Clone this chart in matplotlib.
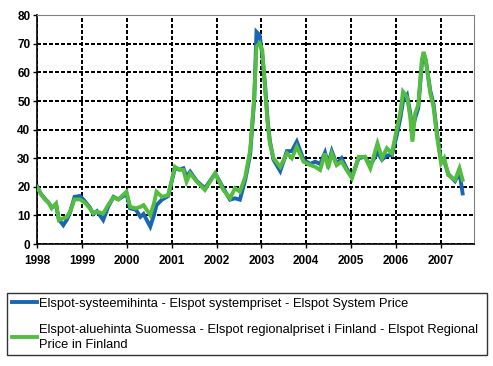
import matplotlib
matplotlib.use("Agg")
import matplotlib.pyplot as plt
from matplotlib.lines import Line2D

# decimal years
t = [1998.00, 1998.08, 1998.17, 1998.25, 1998.32, 1998.42, 1998.48, 1998.58, 1998.66, 1998.73,
     1998.83, 1998.95, 1999.06, 1999.17, 1999.25, 1999.33, 1999.47, 1999.58, 1999.70, 1999.81,
     1999.99, 2000.07, 2000.20, 2000.30, 2000.37, 2000.52, 2000.60, 2000.66, 2000.78, 2000.92,
     2001.07, 2001.17, 2001.26, 2001.33, 2001.41, 2001.56, 2001.74, 2001.97, 2002.15, 2002.30,
     2002.41, 2002.52, 2002.64, 2002.75, 2002.84, 2002.89, 2002.96, 2003.02, 2003.08, 2003.14,
     2003.19, 2003.27, 2003.42, 2003.57, 2003.68, 2003.79, 2003.94, 2004.09, 2004.20, 2004.31,
     2004.42, 2004.49, 2004.57, 2004.68, 2004.79, 2004.90, 2005.02, 2005.17, 2005.31, 2005.43,
     2005.59, 2005.69, 2005.80, 2005.91, 2006.02, 2006.10, 2006.16, 2006.25, 2006.32, 2006.37,
     2006.43, 2006.50, 2006.58, 2006.62, 2006.67, 2006.77, 2006.84, 2006.92, 2007.01, 2007.08,
     2007.17, 2007.32, 2007.42, 2007.49]

finland = [19.8, 17.5, 15.6, 14.5, 12.5, 14.2, 8.4, 9.0, 9.5, 11.3,
           15.6, 15.6, 14.5, 12.5, 10.7, 11.3, 10.7, 13.6, 16.3, 15.6,
           18.3, 13.0, 12.5, 13.0, 13.6, 10.1, 14.0, 18.3, 16.5, 17.1,
           27.0, 26.0, 25.9, 21.8, 24.7, 21.8, 18.9, 24.7, 18.9, 16.0,
           19.5, 18.3, 23.5, 32.9, 51.5, 69.0, 70.2, 67.8, 55.0, 42.2,
           35.2, 30.0, 27.0, 31.7, 30.0, 34.0, 28.8, 27.6, 27.0, 25.9,
           31.7, 26.5, 31.7, 27.6, 28.8, 25.9, 23.0, 30.5, 30.5, 26.5,
           35.2, 30.0, 33.5, 31.7, 40.0, 46.0, 53.3, 51.5, 44.5, 35.8,
           45.7, 48.6, 64.3, 67.2, 64.3, 52.7, 48.0, 37.5, 28.2, 30.0,
           24.1, 22.4, 26.5, 22.4]

system = [20.0, 17.5, 15.8, 14.5, 12.8, 13.5, 8.6, 6.6, 8.5, 11.0,
          16.5, 16.8, 15.0, 12.8, 10.5, 11.5, 8.4, 13.0, 16.5, 15.6,
          17.5, 12.5, 12.0, 9.5, 10.5, 6.1, 10.0, 13.6, 15.5, 16.8,
          26.5, 26.0, 26.5, 23.5, 25.3, 22.0, 19.5, 24.7, 19.5, 15.5,
          16.0, 15.5, 22.5, 31.5, 50.5, 74.2, 73.1, 66.0, 56.0, 43.0,
          36.0, 29.5, 25.5, 32.5, 32.5, 35.8, 29.5, 28.0, 28.8, 28.0,
          32.0, 28.0, 32.5, 28.0, 30.0, 26.5, 23.5, 30.0, 30.5, 27.5,
          32.0, 29.5, 31.0, 31.0, 38.0, 44.0, 50.0, 52.1, 46.0, 40.0,
          44.0, 47.5, 63.0, 66.5, 64.0, 53.5, 49.0, 38.5, 29.0, 29.0,
          24.5, 22.0, 25.0, 17.7]

years = [1998, 1999, 2000, 2001, 2002, 2003, 2004, 2005, 2006, 2007]
yticks = [0, 10, 20, 30, 40, 50, 60, 70, 80]
label_sys = "Elspot-systeemihinta - Elspot systempriset - Elspot System Price"
label_fin = ("Elspot-aluehinta Suomessa - Elspot regionalpriset i Finland - Elspot Regional\n"
             "Price in Finland")

blue = "#1a66b2"
green = "#52bd3e"

fig = plt.figure(figsize=(4.93, 3.66), dpi=100)
ax = fig.add_axes([0.0757, 0.3333, 0.8863, 0.6249])

ax.set_xlim(1998, 2007.75)
ax.set_ylim(0, 80)
ax.set_xticks(years)
ax.set_yticks(yticks)
ax.set_xticklabels([str(y) for y in years])
ax.set_yticklabels([str(v) for v in yticks])

for lab in ax.get_xticklabels() + ax.get_yticklabels():
    lab.set_fontfamily("Liberation Sans")
    lab.set_fontweight("bold")
    lab.set_fontsize(8.5)

ax.tick_params(axis="both", direction="out", length=3, width=1, color="black", pad=2)
ax.tick_params(axis="x", pad=5)

ax.grid(True, color="black", linestyle="--", dashes=(2.4, 1.8), linewidth=1.1,
        antialiased=False, alpha=1.0)
ax.set_axisbelow(True)

ax.plot(t, system, color=blue, lw=2.8, solid_joinstyle="miter", zorder=3)
ax.plot(t, finland, color=green, lw=2.8, solid_joinstyle="miter", zorder=4)

ax.spines["left"].set_color("black")
ax.spines["bottom"].set_color("black")
ax.spines["left"].set_linewidth(1.2)
ax.spines["bottom"].set_linewidth(1.2)
ax.spines["top"].set_color("#808080")
ax.spines["right"].set_color("#808080")

handles = [Line2D([], [], color=blue, lw=2.8), Line2D([], [], color=green, lw=2.8)]
leg = fig.legend(handles, [label_sys, label_fin],
                 loc="upper left", bbox_to_anchor=(0.0142, 0.0246, 0.9736, 0.1749),
                 mode="expand", borderaxespad=0, fancybox=False, frameon=True,
                 prop={"family": "Liberation Sans", "size": 9.3},
                 handlelength=2.0, handletextpad=0.1, borderpad=0.35, labelspacing=1.1)
for txt in leg.get_texts():
    txt.set_linespacing(1.35)
leg.get_frame().set_edgecolor("black")
leg.get_frame().set_linewidth(1.0)

fig.savefig("out.png", dpi=100)
